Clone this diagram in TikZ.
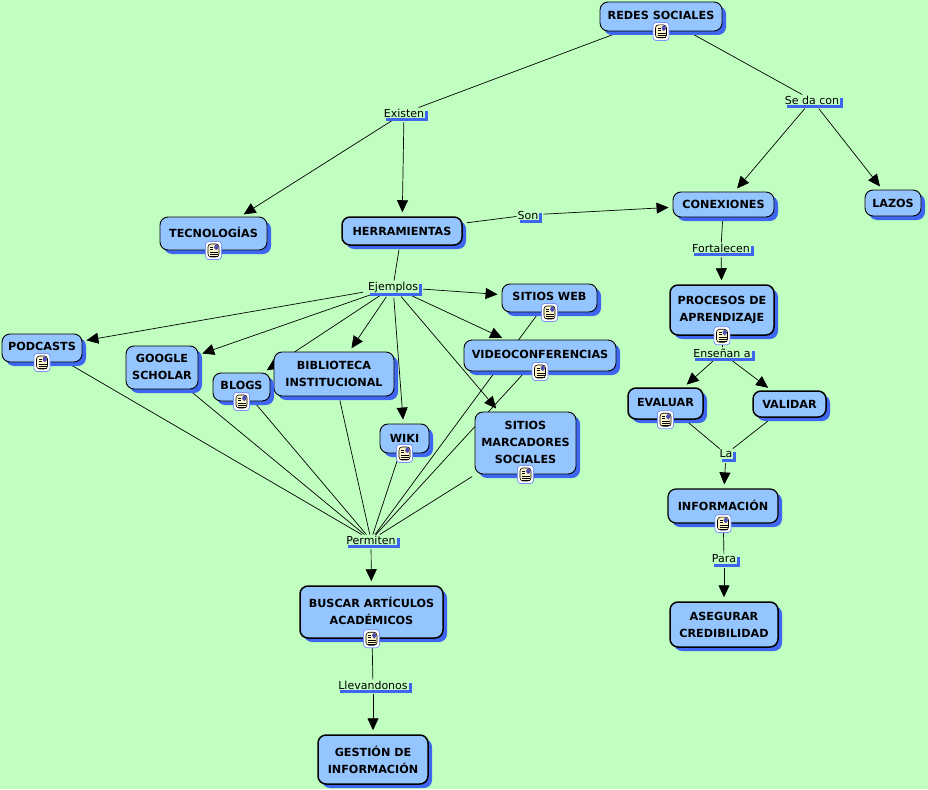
\documentclass[tikz,border=0pt]{standalone}
\usepackage{fontspec}
\setmainfont{DejaVu Sans}
\usetikzlibrary{shadows, backgrounds, arrows.meta}
\definecolor{pagegreen}{HTML}{C1FFC1}
\definecolor{boxblue}{HTML}{94C5FF}
\definecolor{shadowblue}{HTML}{3E66F0}
\definecolor{pagecream}{HTML}{FFF6C8}
\tikzstyle{concept} = [draw, fill=boxblue, rectangle, rounded corners=8pt, line width=0.9pt,
    align=center, inner sep=0pt, text depth=3pt, font=\fontsize{11.2}{17}\selectfont\bfseries,
    drop shadow={shadow xshift=4pt, shadow yshift=-4pt, fill=shadowblue, opacity=1}]
\tikzstyle{strong} = [concept, line width=1.5pt]
\tikzstyle{phrase} = [fill=pagegreen, inner xsep=1pt, inner ysep=1pt, font=\fontsize{11}{12}\selectfont,
    drop shadow={shadow xshift=3pt, shadow yshift=-3pt, fill=shadowblue, opacity=1}]
\tikzstyle{iconbox} = [draw=shadowblue!70, fill=white, rounded corners=3pt, line width=0.8pt,
    minimum width=16pt, minimum height=18pt, inner sep=0pt,
    path picture={
      \fill [pagecream, draw=black, line width=0.6pt] ([shift={(-5.5pt,-6.5pt)}]path picture bounding box.center)
        rectangle ([shift={(5.5pt,6.5pt)}]path picture bounding box.center);
      \fill [gray!60!blue] ([shift={(0.5pt,0.5pt)}]path picture bounding box.center)
        rectangle ([shift={(5pt,6pt)}]path picture bounding box.center);
      \foreach \rowy in {-1.5,-3.5,-5.5}
        \draw [black, line width=0.6pt] ([shift={(-3.5pt,\rowy pt)}]path picture bounding box.center)
          -- ++(8pt,0);
      \foreach \rowy in {1.5,3.5}
        \draw [black, line width=0.6pt] ([shift={(-3.5pt,\rowy pt)}]path picture bounding box.center)
          -- ++(3pt,0);
    }]
\tikzstyle{line} = [draw, line width=0.7pt, shorten <=4pt]
\tikzstyle{arrow} = [line, -{Triangle[length=12pt, width=11pt]}, shorten >=4pt]

\begin{document}
\begin{tikzpicture}[x=1pt, y=-1pt]
    \useasboundingbox (0,0) rectangle (928,789);

    % concepts
    \node [concept, minimum width=122pt, minimum height=29pt] (redes) at (661,16.5) {REDES SOCIALES};
    \node [concept, minimum width=107pt, minimum height=33pt] (tecno) at (213.5,233.5) {TECNOLOGÍAS};
    \node [strong, text depth=0pt, minimum width=120pt, minimum height=28pt] (herra) at (402,231) {HERRAMIENTAS};
    \node [concept, text depth=0pt, minimum width=101pt, minimum height=25pt] (conex) at (723.5,204.5) {CONEXIONES};
    \node [concept, text depth=0pt, minimum width=56pt, minimum height=26pt] (lazos) at (893,203) {LAZOS};
    \node [strong, minimum width=104pt, minimum height=50pt] (proce) at (722,310) {PROCESOS DE\\APRENDIZAJE};
    \node [strong, minimum width=75pt, minimum height=31pt] (evalu) at (665.5,403.5) {EVALUAR};
    \node [strong, text depth=0pt, minimum width=73pt, minimum height=26pt] (valid) at (789.5,404) {VALIDAR};
    \node [concept, line width=1.2pt, text depth=2pt, minimum width=110pt, minimum height=34pt] (infor) at (723,506) {INFORMACIÓN};
    \node [strong, text depth=0pt, minimum width=108pt, minimum height=45pt] (asegu) at (724,624.5) {ASEGURAR\\CREDIBILIDAD};
    \node [concept, minimum width=95pt, minimum height=28pt] (sweb) at (549.5,298) {SITIOS WEB};
    \node [concept, minimum width=152pt, minimum height=31pt] (video) at (540,355.5) {VIDEOCONFERENCIAS};
    \node [concept, text depth=2pt, minimum width=101pt, minimum height=62pt] (smarc) at (525.5,443) {SITIOS\\MARCADORES\\SOCIALES};
    \node [concept, text depth=1pt, minimum width=49pt, minimum height=29pt] (wiki) at (404.5,438.5) {WIKI};
    \node [concept, text depth=1pt, minimum width=120pt, minimum height=44pt] (biblio) at (334,374) {BIBLIOTECA\\INSTITUCIONAL};
    \node [concept, minimum width=57pt, minimum height=28pt] (blogs) at (241.5,387) {BLOGS};
    \node [concept, text depth=1pt, minimum width=72pt, minimum height=43pt] (goog) at (162,367.5) {GOOGLE\\SCHOLAR};
    \node [concept, minimum width=80pt, minimum height=28pt] (podc) at (42,348) {PODCASTS};
    \node [strong, text depth=2pt, minimum width=143pt, minimum height=52pt] (busca) at (371.5,612) {BUSCAR ARTÍCULOS\\ACADÉMICOS};
    \node [strong, text depth=0pt, minimum width=110pt, minimum height=49pt] (gesti) at (373,759.5) {GESTIÓN DE\\INFORMACIÓN};

    % icons
    \foreach \boxname in {redes, tecno, proce, evalu, infor, sweb, video, smarc, wiki, blogs, podc, busca}
        \node [iconbox] (icon-\boxname) at (\boxname.south) {};

    % linking phrases
    \node [phrase] (existen) at (404,113) {Existen};
    \node [phrase] (sedacon) at (812,100) {Se da con};
    \node [phrase] (son) at (528,215) {Son};
    \node [phrase] (fortal) at (721,248) {Fortalecen};
    \node [phrase] (ejemp) at (393,287) {Ejemplos};
    \node [phrase] (ensen) at (722,353) {Enseñan a};
    \node [phrase] (la) at (726,454) {La};
    \node [phrase] (para) at (724,559) {Para};
    \node [phrase] (permit) at (371,540) {Permiten};
    \node [phrase] (llevan) at (373,685) {Llevandonos};

    \begin{scope}[on background layer]
        \fill [pagegreen] (0,0) rectangle (928,789);

        \foreach \from/\to in {redes/existen, redes/sedacon, herra/ejemp, herra/son, conex/fortal,
            proce/ensen, evalu/la, valid/la, infor/para, busca/llevan,
            podc/permit, goog/permit, blogs/permit, biblio/permit, wiki/permit,
            sweb/permit, video/permit, smarc/permit}
            \path [line] (\from) -- (\to);

        \foreach \from/\to in {existen/tecno, existen/herra, sedacon/conex, sedacon/lazos, son/conex,
            fortal/proce, ensen/evalu, ensen/valid, la/infor, para/asegu,
            ejemp/sweb, ejemp/video, ejemp/smarc, ejemp/wiki, ejemp/biblio, ejemp/blogs, ejemp/goog, ejemp/podc,
            permit/busca, llevan/gesti}
            \path [arrow] (\from) -- (\to);
    \end{scope}
\end{tikzpicture}
\end{document}
